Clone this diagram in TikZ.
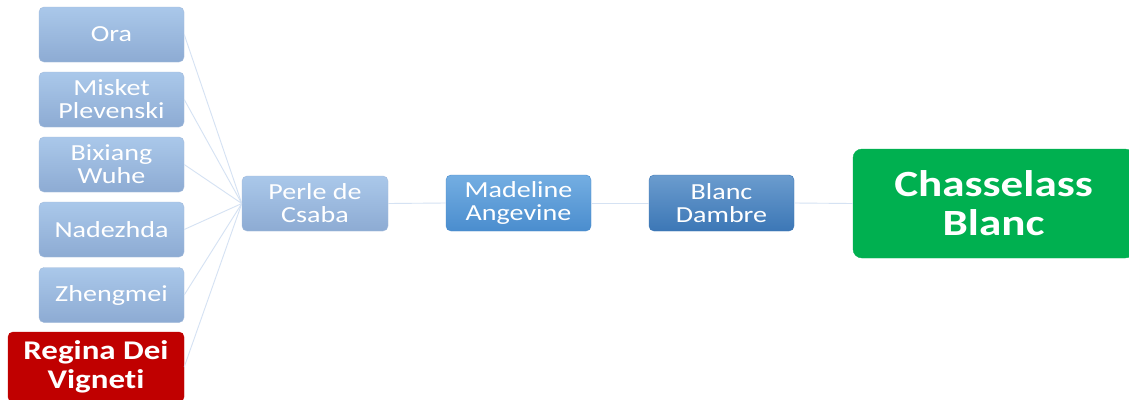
\documentclass[tikz,border=0pt]{standalone}
\usepackage{fontspec}
\setmainfont{Carlito}[FakeStretch=1.22,Ligatures=NoCommon]
\begin{document}
\begin{tikzpicture}[x=1pt,y=1pt,
  base/.style={rectangle, rounded corners=5pt, text=white, align=center, inner sep=0pt,
     font=\fontsize{23}{23}\selectfont},
  lightbox/.style={base, minimum width=145pt, minimum height=55pt,
     top color=lb1, bottom color=lb2, draw=lb2!80!white, line width=0.4pt},
  midbox/.style={base, minimum width=145pt, minimum height=56pt,
     top color=mb1, bottom color=mb2, draw=mb2, line width=0.4pt},
  darkbox/.style={base, minimum width=145pt, minimum height=56pt,
     top color=db1, bottom color=db2, draw=db2, line width=0.4pt},
  link/.style={draw=linkc, line width=0.9pt}]
\definecolor{lb1}{HTML}{AAC8EA}
\definecolor{lb2}{HTML}{8DABD3}
\definecolor{mb1}{HTML}{74AEE2}
\definecolor{mb2}{HTML}{4A8DCE}
\definecolor{db1}{HTML}{6B9CCE}
\definecolor{db2}{HTML}{3C77B6}
\definecolor{gr}{HTML}{00B050}
\definecolor{rd}{HTML}{C00000}
\definecolor{linkc}{HTML}{D5E2F3}
\useasboundingbox (0,0) rectangle (1129,-399);
\fill[white] (0,0) rectangle (1129,-399);

\node[lightbox] (ora) at (111.5,-34.5) {Ora};
\node[lightbox] (misket) at (111.5,-99.5) {Misket\\Plevenski};
\node[lightbox] (bixiang) at (111.5,-164.5) {Bixiang\\Wuhe};
\node[lightbox] (nadezhda) at (111.5,-229.5) {Nadezhda};
\node[lightbox] (zhengmei) at (111.5,-295) {Zhengmei};
\node[base, fill=rd, draw=rd, minimum width=176pt, minimum height=70pt,
      font=\fontsize{27}{29}\selectfont\bfseries] (regina) at (96,-367) {Regina Dei\\Vigneti};

\node[lightbox, minimum width=146pt] (perle) at (315,-203.5) {Perle de\\Csaba};
\node[midbox] (madeline) at (518.5,-203) {Madeline\\Angevine};
\node[darkbox] (blanc) at (721.5,-203) {Blanc\\Dambre};
\node[base, fill=gr, draw=gr, rounded corners=9pt, minimum width=281pt, minimum height=109pt,
      font=\fontsize{37}{39}\selectfont\bfseries] (chass) at (993.5,-203.5) {Chasselass\\Blanc};

\foreach \n in {ora,misket,bixiang,nadezhda,zhengmei,regina}
  \draw[link] (\n.east) -- (perle.west);
\draw[link] (perle.east) -- (madeline.west);
\draw[link] (madeline.east) -- (blanc.west);
\draw[link] (blanc.east) -- (chass.west);
\end{tikzpicture}
\end{document}
